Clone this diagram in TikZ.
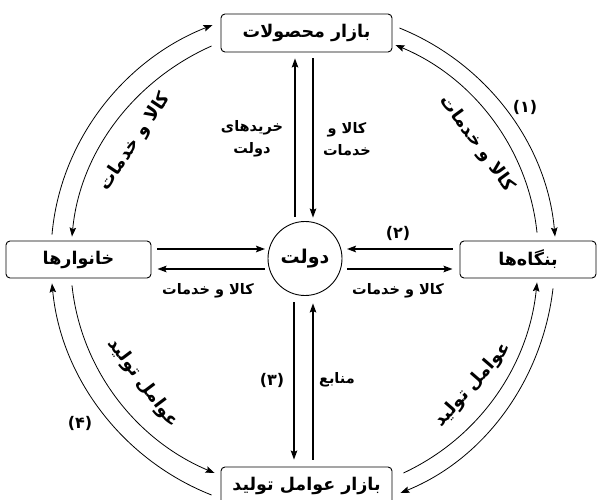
\documentclass[tikz,border=0pt]{standalone}
\usepackage{fontspec}
\newfontfamily\fa[Script=Arabic]{DejaVu Sans}
\TeXXeTstate=1
\usetikzlibrary{arrows.meta}
\newcommand{\rtl}[1]{\beginR #1\endR}
\begin{document}
\begin{tikzpicture}[x=1pt,y=1pt,
  box/.style={draw, rounded corners=4pt, line width=0.9pt, inner sep=0pt,
    font=\fa\bfseries\fontsize{17.5}{20}\selectfont},
  govc/.style={draw, circle, line width=0.9pt, minimum size=74pt, inner sep=0pt,
    font=\fa\bfseries\fontsize{19}{22}\selectfont},
  lbl/.style={font=\fa\bfseries\fontsize{14.5}{22}\selectfont, align=center, inner sep=0pt},
  arclbl/.style={font=\fa\bfseries\fontsize{18}{20}\selectfont, inner sep=0pt},
  num/.style={font=\fa\bfseries\fontsize{16}{18}\selectfont, inner sep=0pt},
  tip/.style={-{Stealth[length=9pt,width=6.5pt,inset=1.5pt]}},
  harr/.style={tip, line width=1.6pt},
  varr/.style={tip, line width=1.2pt},
  carr/.style={tip, line width=0.8pt, looseness=0.92}]
\useasboundingbox (0,0) rectangle (600,499);
% nodes
\node[box, minimum width=171pt, minimum height=38pt] (pm) at (306.5,466) {\rtl{بازار محصولات}};
\node[box, minimum width=171pt, minimum height=38pt] (fm) at (306.5,13) {\rtl{بازار عوامل تولید}};
\node[box, minimum width=145pt, minimum height=37pt] (hh) at (78.5,239.5) {\rtl{خانوارها}};
\node[box, minimum width=136pt, minimum height=37pt] (firm) at (528,239.5) {\rtl{بنگاه‌ها}};
\node[govc] (gov) at (305,240.5) {\rtl{دولت}};
% vertical arrows
\draw[varr] ([shift={(-10,4.5)}]gov.north) -- ([shift={(-11.5,-6)}]pm.south);
\draw[varr] ([shift={(6.5,-6)}]pm.south) -- ([shift={(8,3.5)}]gov.north);
\draw[varr] ([shift={(-11,-6.5)}]gov.south) -- ([shift={(-12.5,7)}]fm.north);
\draw[varr] ([shift={(6.5,7)}]fm.north) -- ([shift={(8,-7.5)}]gov.south);
% horizontal arrows
\draw[harr] ([shift={(6,10.5)}]hh.east) -- ([shift={(-2.5,9.5)}]gov.west);
\draw[harr] ([shift={(-2.5,-10.5)}]gov.west) -- ([shift={(6,-9.5)}]hh.east);
\draw[harr] ([shift={(-7,10.5)}]firm.west) -- ([shift={(4.5,9.5)}]gov.east);
\draw[harr] ([shift={(4.5,-10.5)}]gov.east) -- ([shift={(-7,-9.5)}]firm.west);
% outer circular arcs
\draw[carr] ([shift={(-26.5,6)}]hh.north) to[out=85,in=201.5] ([shift={(-8,8)}]pm.west);
\draw[carr] ([shift={(-9,-13)}]pm.west) to[out=204,in=84.6] ([shift={(-6.5,4)}]hh.north);
\draw[carr] ([shift={(7,5)}]pm.east) to[out=-22,in=95] ([shift={(27,4)}]firm.north);
\draw[carr] ([shift={(9,8)}]firm.north) to[out=96,in=-22.6] ([shift={(3,-12)}]pm.east);
\draw[carr] ([shift={(-9,-9)}]fm.west) to[out=158.5,in=275.4] ([shift={(-26.5,-5)}]hh.south);
\draw[carr] ([shift={(-6.5,-7)}]hh.south) to[out=276,in=157.2] ([shift={(-6,13)}]fm.west);
\draw[carr] ([shift={(11,13)}]fm.east) to[out=25,in=264.3] ([shift={(9,-4)}]firm.south);
\draw[carr] ([shift={(25,-10)}]firm.south) to[out=263.3,in=22.1] ([shift={(8,-7)}]fm.east);
% labels
\node[lbl] (l1) at (252,360) {\rtl{خریدهای}\\\rtl{دولت}};
\node[lbl] (l2) at (347,360) {\rtl{کالا و}\\\rtl{خدمات}};
\node[lbl] (l3) at (208,208) {\rtl{کالا و خدمات}};
\node[lbl] (l4) at (398,208) {\rtl{کالا و خدمات}};
\node[lbl] (l5) at (337,119) {\rtl{منابع}};
\node[num] (n2) at (398,266) {(۲)};
\node[num] (n1) at (525,392) {(۱)};
\node[num] (n3) at (272,119) {(۳)};
\node[num] (n4) at (80,76) {(۴)};
\node[arclbl, rotate=56] (a1) at (135,357) {\rtl{کالا و خدمات}};
\node[arclbl, rotate=-54] (a2) at (477,355) {\rtl{کالا و خدمات}};
\node[arclbl, rotate=-53] (a3) at (143,116) {\rtl{عوامل تولید}};
\node[arclbl, rotate=49] (a4) at (473,114) {\rtl{عوامل تولید}};
\end{tikzpicture}
\end{document}
